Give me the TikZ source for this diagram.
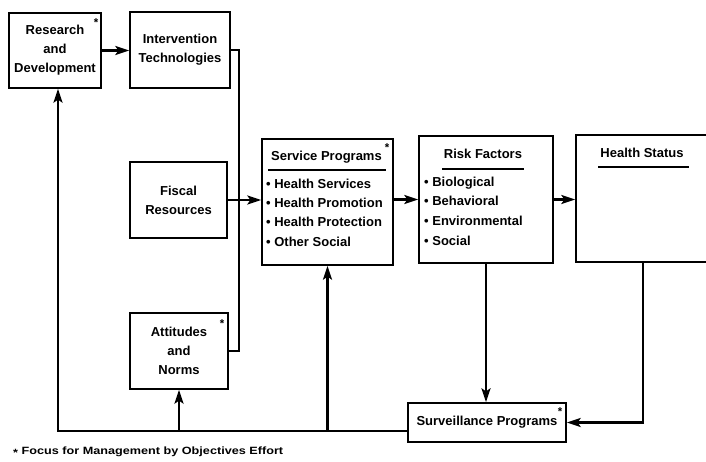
\documentclass[tikz,border=0pt]{standalone}
\usepackage{fontspec}
\setmainfont{Liberation Sans}
\newfontfamily\notefont[FakeStretch=1.2]{Liberation Sans}
\usetikzlibrary{arrows.meta}

\tikzset{
	box/.style={draw, line width=0.7mm, inner sep=0pt, align=center,
		font=\fontsize{14.8}{21.6}\selectfont\bfseries},
	txt/.style={inner sep=0pt, font=\fontsize{14.8}{21.6}\selectfont\bfseries},
	item/.style={txt, anchor=west, text height=1.6ex, text depth=0.35ex},
	star/.style={inner sep=0pt, font=\fontsize{13}{13}\selectfont\bfseries},
	rule/.style={line width=0.5mm},
	wire/.style={line width=1.05mm},
	flow/.style={wire, -{Stealth[length=5.5mm,width=3.6mm,inset=1.2mm]}}
}

\begin{document}
\begin{tikzpicture}[x=0.4mm, y=-0.4mm]
	
	\useasboundingbox (0,0) rectangle (706,461);
	\clip (0,0) rectangle (706,461);
	
	% left column
	\node[box, minimum width=36.8mm, minimum height=30mm] (rd) at (55,50.5) {Research\\and\\Development};
	\node[box, minimum width=40mm, minimum height=30.4mm] (it) at (180,50) {Intervention\\Technologies};
	\node[box, minimum width=38.8mm, minimum height=30.4mm] (fr) at (178.5,200) {Fiscal\\Resources};
	\node[box, minimum width=39.2mm, minimum height=30.4mm] (an) at (179,351) {Attitudes\\and\\Norms};
	
	% middle and right boxes
	\node[box, minimum width=52.4mm, minimum height=50.4mm] (sp) at (327.5,202) {};
	\node[box, minimum width=53.6mm, minimum height=50.8mm] (rf) at (486,199.5) {};
	\node[box, minimum width=53.6mm, minimum height=50.8mm] (hs) at (643,198.5) {};
	\node[box, minimum width=63.2mm, minimum height=15.6mm] (sv) at (487,422.5) {Surveillance Programs};
	
	\node[txt] (sptitle) at (326.5,157) {Service Programs};
	\draw[rule] (268,170) -- (386,170);
	\node[item] (sp1) at (266,186) {\textbullet\ Health Services};
	\node[item] (sp2) at (266,205) {\textbullet\ Health Promotion};
	\node[item] (sp3) at (266,224) {\textbullet\ Health Protection};
	\node[item] (sp4) at (266,244) {\textbullet\ Other Social};
	
	\node[txt] (rftitle) at (483,154) {Risk Factors};
	\draw[rule] (442,169) -- (524,169);
	\node[item] (rf1) at (424,184) {\textbullet\ Biological};
	\node[item] (rf2) at (424,203) {\textbullet\ Behavioral};
	\node[item] (rf3) at (424,223) {\textbullet\ Environmental};
	\node[item] (rf4) at (424,243) {\textbullet\ Social};
	
	\node[txt] (hstitle) at (642,153) {Health Status};
	\draw[rule] (598,167) -- (689,167);
	
	% stars
	\node[star] (rdstar) at (96,23) {*};
	\node[star] (anstar) at (222,324) {*};
	\node[star] (spstar) at (387,148) {*};
	\node[star] (svstar) at (560,412) {*};
	
	% connectors
	\coordinate (bus) at (239,0);
	\coordinate (back) at (58,431);
	
	\draw[flow] (rd.east) -- (rd.east -| it.west);
	\draw[wire] (it.east) -| (bus |- an.east) -- (an.east);
	\draw[flow] (fr.east) -- (fr.east -| sp.west);
	\draw[flow] (sp.east |- rf.west) -- (rf.west);
	\draw[flow] (rf.east) -- (rf.east -| hs.west);
	\draw[flow] (rf.south) -- (rf.south |- sv.north);
	\draw[flow] (hs.south) |- (sv.east);
	\draw[flow] (sv.west |- back) -- (back) -- (back |- rd.south);
	\draw[flow] (an.south |- back) -- (an.south);
	\draw[flow] (sp.south |- back) -- (sp.south);
	
	% footnote
	\node[anchor=west, inner sep=0pt, font=\notefont\fontsize{12}{12}\selectfont\bfseries] (note) at (13,452) {\raisebox{-0.35ex}{*} Focus for Management by Objectives Effort};
	
\end{tikzpicture}
\end{document}
